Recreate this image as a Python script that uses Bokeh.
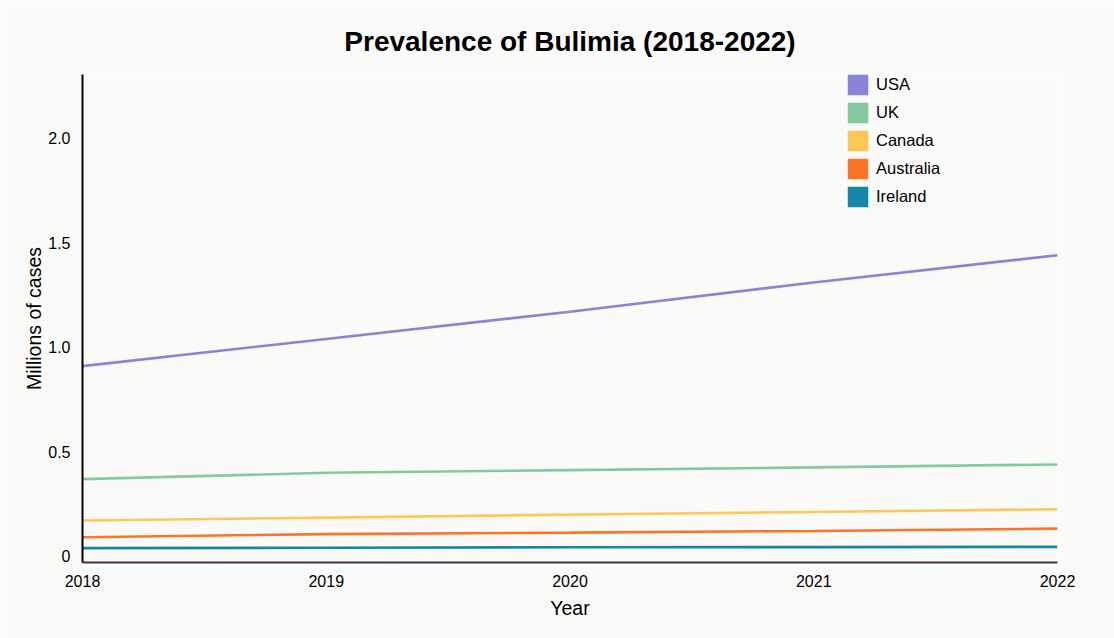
from bokeh.plotting import figure
from bokeh.models import (Range1d, FixedTicker, Legend, LegendItem, ColumnDataSource)
from bokeh.embed import file_html
from bokeh.resources import INLINE

years = [2018, 2019, 2020, 2021, 2022]
countries = ["USA", "UK", "Canada", "Australia", "Ireland"]
usa = [0.91, 1.04, 1.17, 1.31, 1.44]
uk = [0.37, 0.40, 0.413, 0.426, 0.44]
canada = [0.172, 0.186, 0.20, 0.213, 0.226]
australia = [0.092, 0.107, 0.114, 0.122, 0.133]
ireland = [0.04, 0.042, 0.044, 0.045, 0.046]
series = [usa, uk, canada, australia, ireland]
colors = ["#8884d8", "#82ca9d", "#ffc658", "#ff7326", "#1686a8"]
y_ticks = [0, 0.5, 1.0, 1.5, 2.0]
y_tick_labels = ["0", "0.5", "1.0", "1.5", "2.0"]
x_tick_labels = ["2018", "2019", "2020", "2021", "2022"]

BG = "#fafaf9"
FONT = "Liberation Sans"
NAN = float("nan")

p = figure(width=1114, height=638, output_backend="svg", toolbar_location=None,
           x_range=Range1d(2018, 2022), y_range=Range1d(-0.0287, 2.304),
           min_border_left=82, min_border_right=57, min_border_top=74, min_border_bottom=76,
           background_fill_color=BG, border_fill_color=BG, outline_line_color=None)

p.title.text = "Prevalence of Bulimia (2018-2022)"
p.title.align = "center"
p.title.text_font = FONT
p.title.text_font_size = "28px"
p.title.text_font_style = "bold"
p.title.text_color = "#000000"
p.title.standoff = 36

p.xgrid.visible = False
p.ygrid.visible = False

legend_items = []
for name, vals, col in zip(countries, series, colors):
    src = ColumnDataSource(dict(x=years, y=vals))
    p.line("x", "y", source=src, line_color=col, line_width=2.6)
    sw_src = ColumnDataSource(dict(l=[NAN], r=[NAN], t=[NAN], b=[NAN]))
    sw = p.quad(left="l", right="r", top="t", bottom="b", source=sw_src,
                fill_color=col, line_color=col, line_alpha=0.5)
    legend_items.append(LegendItem(label=name, renderers=[sw]))

legend = Legend(items=legend_items, location=(763, 353), padding=0, margin=0,
                glyph_width=25, glyph_height=25, spacing=3, label_standoff=6,
                label_text_font=FONT, label_text_font_size="16.5px",
                label_text_color="#000000",
                background_fill_alpha=0, border_line_color=None)
p.add_layout(legend)

xa = p.xaxis[0]
xa.ticker = FixedTicker(ticks=years)
xa.major_label_overrides = {y: s for y, s in zip(years, x_tick_labels)}
xa.axis_label = "Year"
ya = p.yaxis[0]
ya.ticker = FixedTicker(ticks=y_ticks)
ya.major_label_overrides = {t: s for t, s in zip(y_ticks, y_tick_labels)}
ya.axis_label = "Millions of cases"

for ax in (xa, ya):
    ax.major_tick_out = 0
    ax.major_tick_in = 0
    ax.minor_tick_out = 0
    ax.minor_tick_in = 0
    ax.major_label_standoff = 12
    ax.major_label_text_font = FONT
    ax.major_label_text_font_size = "16px"
    ax.major_label_text_color = "#000000"
    ax.axis_label_text_font = FONT
    ax.axis_label_text_font_size = "19.5px"
    ax.axis_label_text_font_style = "normal"
    ax.axis_label_text_color = "#000000"
    ax.axis_line_width = 2
xa.axis_line_color = "#3a3a3a"
ya.axis_line_color = "#000000"
xa.axis_label_standoff = 7
ya.axis_label_standoff = 0

html = file_html(p, INLINE)
html = html.replace("<body>", '<body style="background:%s">' % BG, 1)
open("out.html", "w").write(html)
